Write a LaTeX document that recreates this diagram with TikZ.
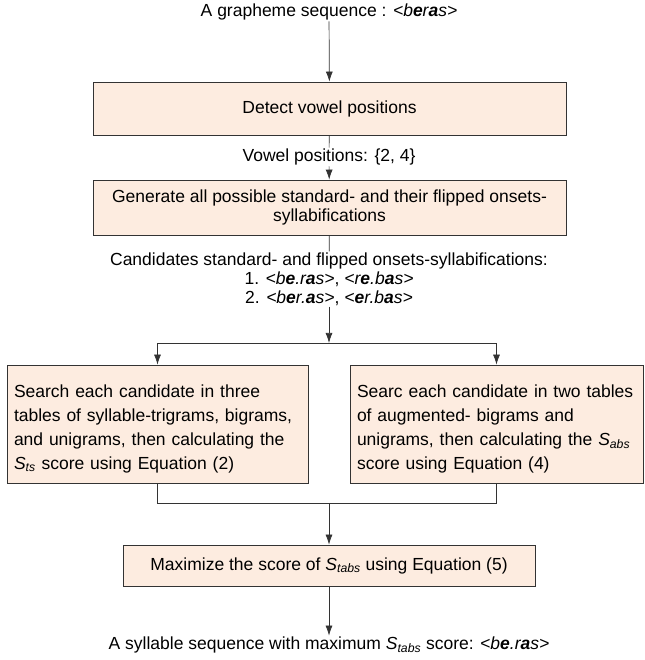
\documentclass[tikz,border=0pt]{standalone}
\usepackage{fontspec}
\setmainfont{Liberation Sans}
\usetikzlibrary{arrows.meta,positioning}
\definecolor{boxfill}{RGB}{253,236,224}
\newcommand{\vw}[1]{\textbf{#1}}
\newcommand{\scr}[1]{\textit{S}\textsubscript{\textit{#1}}}
\newcommand{\topstrut}{\rule{0pt}{22pt}}
\begin{document}
\begin{tikzpicture}[x=1pt,y=1pt,
  every node/.style={font=\fontsize{17.5}{19}\selectfont},
  procbox/.style={draw=black!80, line width=0.7pt, fill=boxfill, inner sep=6pt},
  sidebox/.style={procbox, inner sep=7pt, align=left, minimum height=118,
    font=\fontsize{17.5}{24}\selectfont},
  txt/.style={inner sep=1pt, align=center},
  conn/.style={line width=0.7pt, draw=black!80},
  arr/.style={conn, -{Latex[length=10pt,width=7pt]}}]
\useasboundingbox (0,0) rectangle (644,660);
\node[txt] (top) at (329,648) {A grapheme sequence : \textit{<b\vw{e}r\vw{a}s>}};
\node[procbox, minimum width=473, minimum height=53] (b1) at (329.5,551.5) {Detect vowel positions};
\node[txt] (vow) at (329,503) {Vowel positions: \{2, 4\}};
\node[procbox, minimum width=473, minimum height=55, align=center] (b2) at (329.5,452.5)
  {Generate all possible standard- and their flipped onsets-\\syllabifications};
\node[txt] (cand) at (329,381) {Candidates standard- and flipped onsets-syllabifications:\\
  1. \textit{<b\vw{e}.r\vw{a}s>}, \textit{<r\vw{e}.b\vw{a}s>}\\
  2. \textit{<b\vw{e}r.\vw{a}s>}, \textit{<\vw{e}r.b\vw{a}s>}};
\coordinate (j1) at (329,317);
\node[sidebox, text width=287] (b3) at (157.5,236)
  {\topstrut Search each candidate in three\\tables of syllable-trigrams, bigrams,\\and unigrams, then calculating the\\\scr{ts} score using Equation (2)};
\node[sidebox, text width=279] (b4) at (496.5,236)
  {\topstrut Searc each candidate in two tables\\of augmented- bigrams and\\unigrams, then calculating the \scr{abs}\\score using Equation (4)};
\coordinate (j2) at (329,157);
\node[procbox, minimum width=412, minimum height=41] (b5) at (329,94.5)
  {Maximize the score of \scr{tabs} using Equation (5)};
\node[txt] (fin) at (329,15) {A syllable sequence with maximum \scr{tabs} score: \textit{<b\vw{e}.r\vw{a}s>}};
\draw[arr] (top) -- (b1);
\draw[conn] (b1) -- (vow);
\draw[arr] (vow) -- (b2);
\draw[conn] (b2) -- (cand);
\draw[arr] (cand) -- (j1);
\draw[arr] (j1) -| (b3.north);
\draw[arr] (j1) -| (b4.north);
\draw[conn] (b3.south) |- (j2);
\draw[conn] (b4.south) |- (j2);
\draw[arr] (j2) -- (b5);
\draw[arr] (b5) -- (fin);
\end{tikzpicture}
\end{document}
